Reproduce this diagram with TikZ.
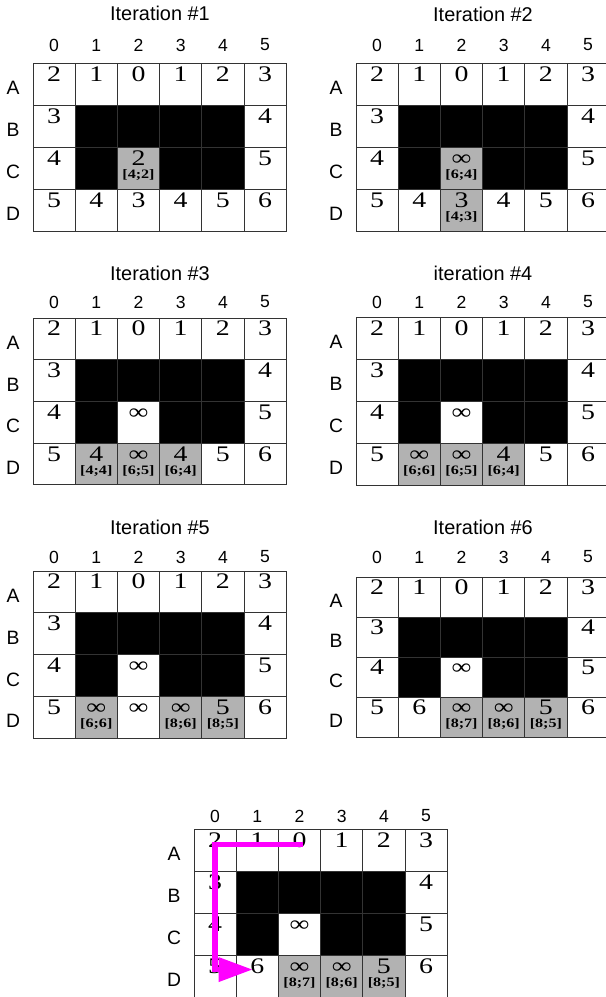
\documentclass[tikz,border=0pt]{standalone}
\usepackage{fontspec}
\setmainfont{Liberation Serif}
\setsansfont{Liberation Sans}
\newfontfamily\valfont[FakeStretch=1.25]{Liberation Serif}
\usetikzlibrary{arrows.meta}

\colorlet{shade}{black!30}
\definecolor{pathpink}{RGB}{255,0,255}

\newcommand{\grid}[5]{%
  \foreach \c in {0,...,5}
    \node[collab] (#1-c\c) at ({#2+21.1+42.2*\c}, #5) {\c};
  \foreach \r/\R in {0/A,1/B,2/C,3/D} {
    \node[rowlab] (#1-\R) at ({#2-20}, {#3+#4*(\r+0.5)+4}) {\R};
    \foreach \c in {0,...,5}
      \node[cell, minimum height=#4*0.03cm] (#1-\R\c) at ({#2+42.2*\c}, {#3+#4*\r}) {};
  }
  \foreach \k in {B1,B2,B3,B4,C1,C3,C4}
    \draw[wall] (#1-\k.north west) rectangle (#1-\k.south east);
  \foreach \k/\v in {A0/2,A1/1,A2/0,A3/1,A4/2,A5/3,B0/3,B5/4,C0/4,C5/5,D0/5,D5/6}
    \node[val] (#1-\k-v) at (#1-\k.center) {\v};
}

\newcommand{\vals}[2]{%
  \foreach \k/\v in {#2}
    \node[val] (#1-\k-v) at (#1-\k.center) {\v};
}

\newcommand{\setcell}[4]{%
  \draw[border, fill=shade] (#1-#2.north west) rectangle (#1-#2.south east);
  \node[val] (#1-#2-v) at (#1-#2.center) {#3};
  \node[sub] (#1-#2-s) at (#1-#2.center) {#4};
}

\begin{document}
\begin{tikzpicture}[
    x=0.03cm, y=-0.03cm,
    border/.style={draw=black!80, line width=0.7pt},
    cell/.style={border, anchor=north west, inner sep=0pt, outer sep=0pt, minimum width=42.2*0.03cm},
    wall/.style={border, fill=black},
    val/.style={font=\valfont\fontsize{19}{19}\selectfont, anchor=base, inner sep=0pt, yshift=2.5pt},
    sub/.style={font=\valfont\bfseries\fontsize{11}{11}\selectfont, anchor=base, inner sep=0pt, yshift=-9pt},
    collab/.style={font=\sffamily\fontsize{15}{15}\selectfont},
    rowlab/.style={font=\sffamily\fontsize{16.5}{16.5}\selectfont},
    ttl/.style={font=\sffamily\fontsize{17}{17}\selectfont},
    route/.style={pathpink, line width=4.5pt, -{Triangle[length=29pt,width=20pt]}}
  ]
  \useasboundingbox (0,0) rectangle (605,997);

  \node[ttl] (g1-t) at (160,13) {Iteration \#1};
  \grid{g1}{33}{63}{42}{45}
  \setcell{g1}{C2}{2}{[4;2]}
  \vals{g1}{D1/4,D2/3,D3/4,D4/5}

  \node[ttl] (g2-t) at (483,14) {Iteration \#2};
  \grid{g2}{356}{63}{42}{45}
  \setcell{g2}{C2}{∞}{[6;4]}
  \setcell{g2}{D2}{3}{[4;3]}
  \vals{g2}{D1/4,D3/4,D4/5}

  \node[ttl] (g3-t) at (160,273) {Iteration \#3};
  \grid{g3}{33}{318}{41.7}{302}
  \setcell{g3}{D1}{4}{[4;4]}
  \setcell{g3}{D2}{∞}{[6;5]}
  \setcell{g3}{D3}{4}{[6;4]}
  \vals{g3}{C2/∞,D4/5}

  \node[ttl] (g4-t) at (483,273) {iteration \#4};
  \grid{g4}{356}{317}{42}{302}
  \setcell{g4}{D1}{∞}{[6;6]}
  \setcell{g4}{D2}{∞}{[6;5]}
  \setcell{g4}{D3}{4}{[6;4]}
  \vals{g4}{C2/∞,D4/5}

  \node[ttl] (g5-t) at (160,527) {Iteration \#5};
  \grid{g5}{33}{571}{41.8}{557}
  \setcell{g5}{D1}{∞}{[6;6]}
  \setcell{g5}{D3}{∞}{[8;6]}
  \setcell{g5}{D4}{5}{[8;5]}
  \vals{g5}{C2/∞,D2/∞}

  \node[ttl] (g6-t) at (483,527) {Iteration \#6};
  \grid{g6}{356}{577}{40}{557}
  \setcell{g6}{D2}{∞}{[8;7]}
  \setcell{g6}{D3}{∞}{[8;6]}
  \setcell{g6}{D4}{5}{[8;5]}
  \vals{g6}{C2/∞,D1/6}

  \grid{g7}{194}{829}{42}{816}
  \setcell{g7}{D2}{∞}{[8;7]}
  \setcell{g7}{D3}{∞}{[8;6]}
  \setcell{g7}{D4}{5}{[8;5]}
  \vals{g7}{C2/∞,D1/6}
  \draw[route] ([xshift=3pt,yshift=5pt]g7-A2.center) -| ([yshift=5.5pt]g7-D0.center) -- ([xshift=-4pt,yshift=5.5pt]g7-D1.center);
\end{tikzpicture}
\end{document}
